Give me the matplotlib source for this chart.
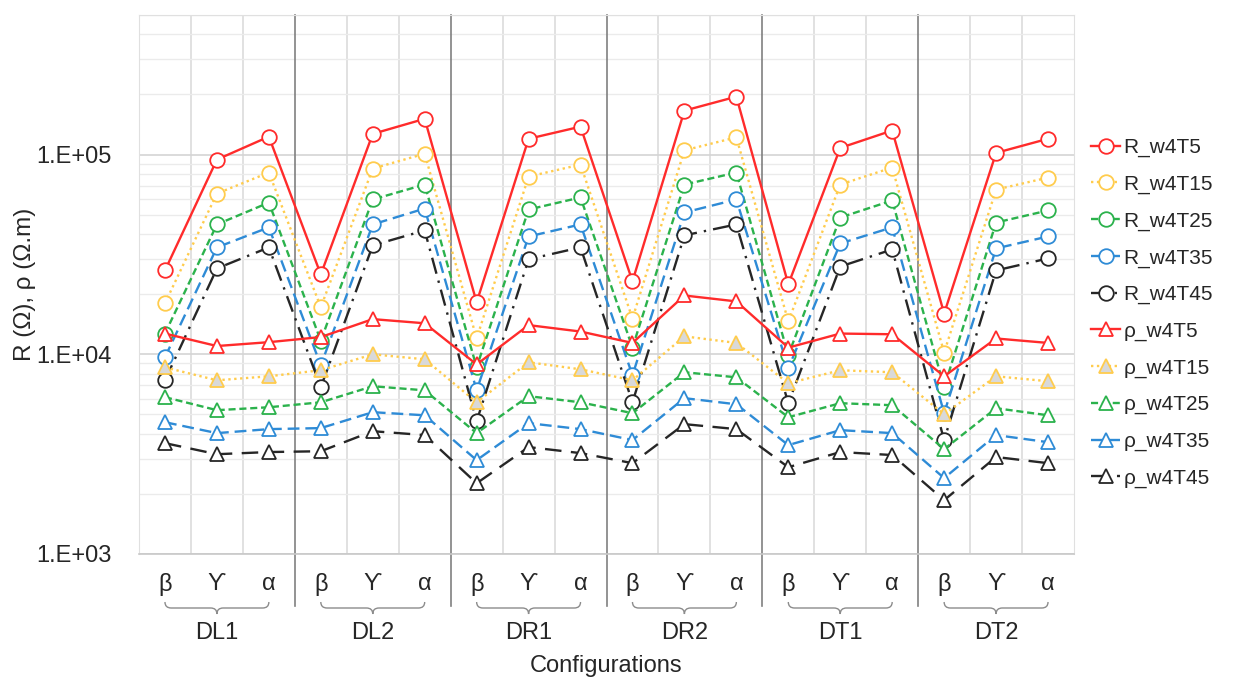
import sys
import math
import matplotlib
matplotlib.use("Agg")
import matplotlib.pyplot as plt
from matplotlib.path import Path
from matplotlib.patches import PathPatch
from matplotlib.ticker import FixedLocator, FuncFormatter, NullFormatter
from matplotlib.transforms import blended_transform_factory

plt.rcParams['font.family'] = ['Liberation Sans', 'DejaVu Sans']

# configurations and arrays along the x axis
groups = ['DL1', 'DL2', 'DR1', 'DR2', 'DT1', 'DT2']
arrays = ['β', 'ϒ', 'α']

# resistance R (ohm)
r_w4t5 = [26300, 94400, 123000, 25100, 127000, 151000, 18200, 120000, 138000,
          23200, 166000, 195000, 22400, 108000, 132000, 16000, 102000, 120000]
r_w4t15 = [18000, 63800, 81300, 17200, 85100, 101000, 12000, 77600, 89100,
           15100, 105000, 122000, 14600, 70800, 86100, 10200, 66800, 76700]
r_w4t25 = [12700, 44700, 57500, 11700, 59600, 70800, 8600, 53100, 61000,
           10800, 70800, 81300, 9900, 48400, 58900, 6840, 45700, 52500]
r_w4t35 = [9660, 34300, 43200, 8800, 44700, 53700, 6600, 38900, 44700,
           7850, 51300, 59600, 8500, 35900, 43200, 5070, 33900, 38900]
r_w4t45 = [7410, 26900, 34300, 6840, 35100, 41700, 4620, 29900, 34300,
           5750, 39400, 44700, 5690, 27500, 33500, 3720, 26300, 30200]

# apparent resistivity rho (ohm.m)
rho_w4t5 = [12700, 11000, 11500, 12200, 15000, 14300, 8900, 14000, 13000,
            11400, 19700, 18400, 10800, 12700, 12600, 7760, 12000, 11400]
rho_w4t15 = [8600, 7410, 7760, 8320, 10000, 9440, 5750, 9120, 8410,
             7410, 12300, 11400, 7160, 8320, 8130, 5010, 7760, 7330]
rho_w4t25 = [6100, 5250, 5430, 5750, 6920, 6600, 4030, 6170, 5750,
             5070, 8130, 7670, 4840, 5690, 5560, 3350, 5370, 4950]
rho_w4t35 = [4570, 4030, 4220, 4270, 5130, 4950, 2950, 4520, 4220,
             3720, 6030, 5620, 3510, 4170, 4030, 2400, 3940, 3630]
rho_w4t45 = [3590, 3160, 3240, 3270, 4120, 3940, 2260, 3430, 3200,
             2850, 4470, 4220, 2720, 3240, 3130, 1860, 3060, 2850]

RED = '#ff2b2b'
YELLOW = '#ffcc4d'
GREEN = '#2bb24c'
BLUE = '#2e8bd6'
BLACK = '#262626'
TEXT = '#262626'

FIG_W, FIG_H = 1236, 677


def build_series() -> list[dict]:
    """Pair every series with its label and style."""
    return [
        dict(label='R_w4T5', y=r_w4t5, color=RED, ls='-', marker='o',
             face='white'),
        dict(label='R_w4T15', y=r_w4t15, color=YELLOW, ls=(0, (1, 1.5)),
             marker='o', face='white'),
        dict(label='R_w4T25', y=r_w4t25, color=GREEN, ls=(0, (3, 1.6)),
             marker='o', face='white'),
        dict(label='R_w4T35', y=r_w4t35, color=BLUE, ls=(0, (5, 2.5)),
             marker='o', face='white'),
        dict(label='R_w4T45', y=r_w4t45, color=BLACK, ls=(0, (7, 3, 1, 3)),
             marker='o', face='white'),
        dict(label='ρ_w4T5', y=rho_w4t5, color=RED, ls='-', marker='^',
             face='white'),
        dict(label='ρ_w4T15', y=rho_w4t15, color=YELLOW, ls=(0, (1, 1.5)),
             marker='^', face='#d9d9d9'),
        dict(label='ρ_w4T25', y=rho_w4t25, color=GREEN, ls=(0, (3, 1.6)),
             marker='^', face='white'),
        dict(label='ρ_w4T35', y=rho_w4t35, color=BLUE, ls=(0, (5, 2.5)),
             marker='^', face='white'),
        dict(label='ρ_w4T45', y=rho_w4t45, color=BLACK, ls=(0, (7, 4)),
             marker='^', face='white'),
    ]


def draw_brace(fig, ax, x0: float, x1: float) -> None:
    """Draw a horizontal curly brace below the axis, from x0 to x1."""
    trans = blended_transform_factory(ax.transData, fig.transFigure)
    y_top = 1 - 602 / FIG_H
    y_mid = 1 - 608 / FIG_H
    y_tip = 1 - 614 / FIG_H
    xc = (x0 + x1) / 2
    d = 0.12
    verts = [
        (x0, y_top), (x0, y_mid), (x0 + d, y_mid),
        (xc - d, y_mid),
        (xc, y_mid), (xc, y_tip),
        (xc, y_mid), (xc + d, y_mid),
        (x1 - d, y_mid),
        (x1, y_mid), (x1, y_top),
    ]
    codes = [
        Path.MOVETO, Path.CURVE3, Path.CURVE3,
        Path.LINETO,
        Path.CURVE3, Path.CURVE3,
        Path.CURVE3, Path.CURVE3,
        Path.LINETO,
        Path.CURVE3, Path.CURVE3,
    ]
    patch = PathPatch(Path(verts, codes), transform=trans, fill=False,
                      edgecolor='#8c8c8c', lw=1.0, clip_on=False)
    fig.add_artist(patch)


def display_graph() -> None:
    """Draw the R and rho chart and save it as out.png."""
    fig = plt.figure(figsize=(FIG_W / 100, FIG_H / 100), dpi=100)
    ax = fig.add_axes([139 / FIG_W, 1 - 554 / FIG_H,
                       (1074 - 139) / FIG_W, (554 - 15) / FIG_H])

    n = len(groups) * len(arrays)
    x = list(range(n))

    for s in build_series():
        ax.plot(x, s['y'], color=s['color'], linestyle=s['ls'], lw=1.7,
                marker=s['marker'], markersize=10.5,
                markerfacecolor=s['face'], markeredgecolor=s['color'],
                markeredgewidth=1.3, label=s['label'], zorder=3)

    ax.set_yscale('log')
    ax.set_ylim(1e3, 5e5)
    ax.set_xlim(-0.5, n - 0.5)

    ax.yaxis.set_major_locator(FixedLocator([1e3, 1e4, 1e5]))
    ax.yaxis.set_major_formatter(
        FuncFormatter(lambda v, _: f'1.E+{int(round(math.log10(v))):02d}'))
    ax.yaxis.set_minor_formatter(NullFormatter())
    ax.grid(True, which='major', axis='y', color='#d4d4d4', lw=1.2)
    ax.grid(True, which='minor', axis='y', color='#ebebeb', lw=1.0)

    # light boundaries between arrays, darker ones between configurations
    for b in range(1, n):
        if b % 3 == 0:
            ax.axvline(b - 0.5, ymin=-0.097, ymax=1, color='#808080',
                       lw=1.2, zorder=2, clip_on=False)
        else:
            ax.axvline(b - 0.5, color='#dedede', lw=1.3, zorder=1)

    ax.set_xticks(x)
    ax.set_xticklabels(arrays * len(groups), fontsize=17, color=TEXT)
    ax.tick_params(axis='x', length=0, pad=14)
    ax.tick_params(axis='y', length=0, pad=20, labelsize=17,
                   labelcolor=TEXT)
    ax.tick_params(axis='y', which='minor', length=0)

    for side in ('top', 'right', 'left'):
        ax.spines[side].set_color('#e0e0e0')
    ax.spines['bottom'].set_color('#c8c8c8')
    ax.spines['bottom'].set_linewidth(1.2)

    trans = blended_transform_factory(ax.transData, fig.transFigure)
    for g, name in enumerate(groups):
        x0 = g * 3
        draw_brace(fig, ax, x0, x0 + 2)
        fig.text(x0 + 1, 1 - 633 / FIG_H, name, transform=trans,
                 ha='center', va='center', fontsize=17, color=TEXT)

    fig.text((139 + 1074) / 2 / FIG_W, 1 - 666 / FIG_H, 'Configurations',
             ha='center', va='center', fontsize=17, color=TEXT)
    fig.text(25 / FIG_W, 1 - 284 / FIG_H, 'R (Ω), ρ (Ω.m)', rotation=90,
             ha='center', va='center', fontsize=17.5, color=TEXT)

    fig.legend(loc='center left', bbox_to_anchor=(1091 / FIG_W, 1 - 313 / FIG_H),
               frameon=False, fontsize=15, handlelength=1.4,
               handletextpad=0.15, labelspacing=0.84, borderpad=0,
               borderaxespad=0, labelcolor=TEXT)

    fig.savefig('out.png', dpi=100)


def main() -> int:
    display_graph()
    return 0


if __name__ == "__main__":
    sys.exit(main())
